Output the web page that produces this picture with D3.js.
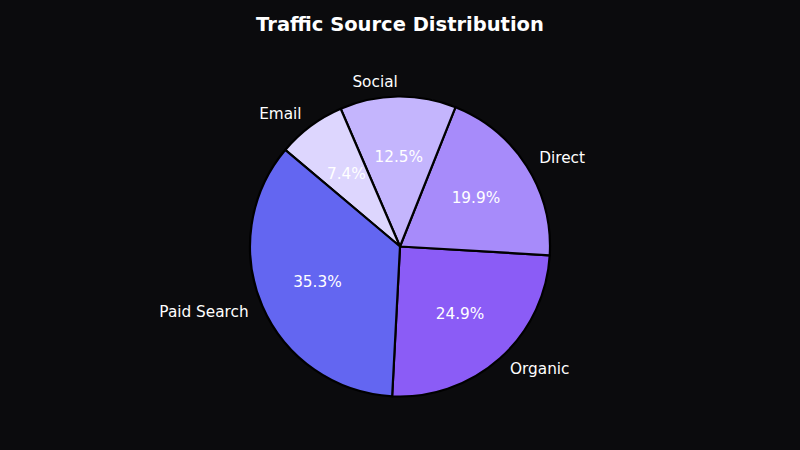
<!DOCTYPE html>
<html>
<head>
<meta charset="utf-8">
<script src="https://cdn.jsdelivr.net/npm/d3@7"></script>
<style>
  html, body { margin: 0; padding: 0; background: #0b0b0d; }
  svg { display: block; font-family: "DejaVu Sans", sans-serif; }
</style>
</head>
<body>
<svg width="800" height="450"></svg>
<script>
// slice data, counterclockwise order as drawn
const categories = ['Organic', 'Direct', 'Social', 'Email', 'Paid Search'];
const shares = [24.9, 19.9, 12.5, 7.4, 35.3];
const colors = ['#8b5cf6', '#a78bfa', '#c4b5fd', '#ddd6fe', '#6366f1'];

const W = 800, H = 450;
const cx = 400, cy = 246.5, radius = 150;

const svg = d3.select('svg');

svg.append('rect')
    .attr('width', W).attr('height', H)
    .attr('fill', '#0b0b0d');

svg.append('text')
    .attr('x', W / 2).attr('y', 24)
    .attr('text-anchor', 'middle')
    .attr('dominant-baseline', 'central')
    .attr('fill', '#ffffff')
    .attr('font-size', 19.5)
    .attr('font-weight', 'bold')
    .text('Traffic Source Distribution');

const data = categories.map((c, i) => ({ name: c, value: shares[i], color: colors[i] }));

// start near the bottom, go counterclockwise (end < start)
const start = 183 * Math.PI / 180;
const pie = d3.pie()
    .sort(null)
    .value(d => d.value)
    .startAngle(start)
    .endAngle(start - 2 * Math.PI);

const arcs = pie(data);

const arc = d3.arc().innerRadius(0).outerRadius(radius);

const g = svg.append('g').attr('transform', `translate(${cx},${cy})`);

g.selectAll('path.slice')
    .data(arcs)
    .enter()
    .append('path')
    .attr('class', 'slice')
    .attr('d', arc)
    .attr('fill', d => d.data.color)
    .attr('stroke', '#000000')
    .attr('stroke-width', 2.2)
    .attr('stroke-linejoin', 'round');

const mid = d => (d.startAngle + d.endAngle) / 2;

// category labels at 1.1 r
g.selectAll('text.label')
    .data(arcs)
    .enter()
    .append('text')
    .attr('class', 'label')
    .attr('x', d => 1.1 * radius * Math.sin(mid(d)))
    .attr('y', d => -1.1 * radius * Math.cos(mid(d)))
    .attr('text-anchor', d => Math.sin(mid(d)) > 0 ? 'start' : 'end')
    .attr('dominant-baseline', 'central')
    .attr('fill', '#ffffff')
    .attr('font-size', 15.3)
    .text(d => d.data.name);

// percentages at 0.6 r
g.selectAll('text.pct')
    .data(arcs)
    .enter()
    .append('text')
    .attr('class', 'pct')
    .attr('x', d => 0.6 * radius * Math.sin(mid(d)))
    .attr('y', d => -0.6 * radius * Math.cos(mid(d)))
    .attr('text-anchor', 'middle')
    .attr('dominant-baseline', 'central')
    .attr('fill', '#ffffff')
    .attr('font-size', 15.3)
    .text(d => d.data.value.toFixed(1) + '%');
</script>
</body>
</html>
